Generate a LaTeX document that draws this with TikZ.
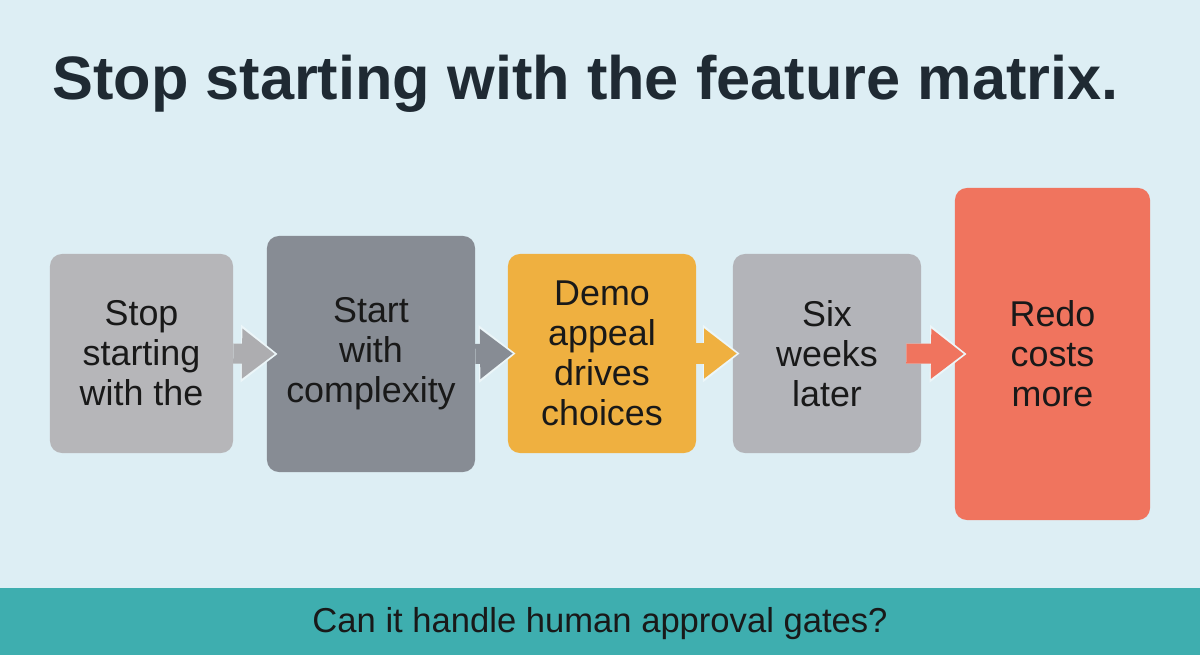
\documentclass[tikz,border=0pt]{standalone}
\usepackage{fontspec}
\setmainfont{Liberation Sans}
\usepackage{xcolor}
\usetikzlibrary{arrows.meta,calc}
\usetikzlibrary{positioning}

\definecolor{bgblue}{HTML}{DDEEF4}
\definecolor{inkdark}{HTML}{1F2A33}
\definecolor{greyA}{HTML}{B6B6B9}
\definecolor{greyB}{HTML}{878C94}
\definecolor{amber}{HTML}{EFB040}
\definecolor{greyC}{HTML}{B3B4B9}
\definecolor{coral}{HTML}{F0745E}
\definecolor{teal}{HTML}{3EAEAF}

\begin{document}
\begin{tikzpicture}[
		x=0.025cm,
		y=-0.025cm,
		line join=round,
		stage/.style={
			rounded corners=0.3cm,
			inner sep=0pt,
			align=center,
			text=black!90,
			font=\fontsize{25.5}{28.4}\selectfont
		},
		flow/.style={
			draw=#1,
			line width=0.5cm,
			-{Triangle[length=0.82cm,width=1.2cm]},
			shorten >=2pt,
			preaction={
				draw=white!45!bgblue,
				line width=0.5cm,
				-{Triangle[length=0.92cm,width=1.38cm]},
				shorten >=0pt
			}
		}
		]
		
		% background
		\fill[bgblue] (0,0) rectangle (1200,655);
		\fill[teal] (0,588) rectangle (1200,655);
		
		% title
		\node[anchor=base west,inner sep=0pt,text=inkdark,font=\fontsize{43.6}{50}\selectfont\bfseries] (title) at (52,100)
			{Stop starting with the feature matrix.};
		
		% stages
		\node[stage,fill=greyA,minimum width=4.575cm,minimum height=4.975cm] (s1) at (141.5,353.5)
			{Stop\\starting\\with the};
		\node[stage,fill=greyB,minimum width=5.2cm,minimum height=5.9cm] (s2) at (371,354)
			{Start\\with\\complexity};
		\node[stage,fill=amber,minimum width=4.7cm,minimum height=4.975cm] (s3) at (602,353.5)
			{Demo\\appeal\\drives\\choices};
		\node[stage,fill=greyC,minimum width=4.7cm,minimum height=4.975cm] (s4) at (827,353.5)
			{Six\\weeks\\later};
		\node[stage,fill=coral,minimum width=4.875cm,minimum height=8.3cm] (s5) at (1052.5,354)
			{Redo\\costs\\more};
		
		% arrows
		\draw[flow=greyA!95!black] (s1.east) -- ($(s2.west)+(11,0)$);
		\draw[flow=greyB] (s2.east) -- ($(s3.west)+(8,0)$);
		\draw[flow=amber] (s3.east) -- ($(s4.west)+(7,0)$);
		\draw[flow=coral] ($(s4.east)+(-15,0)$) -- ($(s5.west)+(12,0)$);
		
		% question
		\node[anchor=base,inner sep=0pt,text=black!90,font=\fontsize{24.6}{28}\selectfont] (question) at (600,632)
			{Can it handle human approval gates?};
\end{tikzpicture}
\end{document}
